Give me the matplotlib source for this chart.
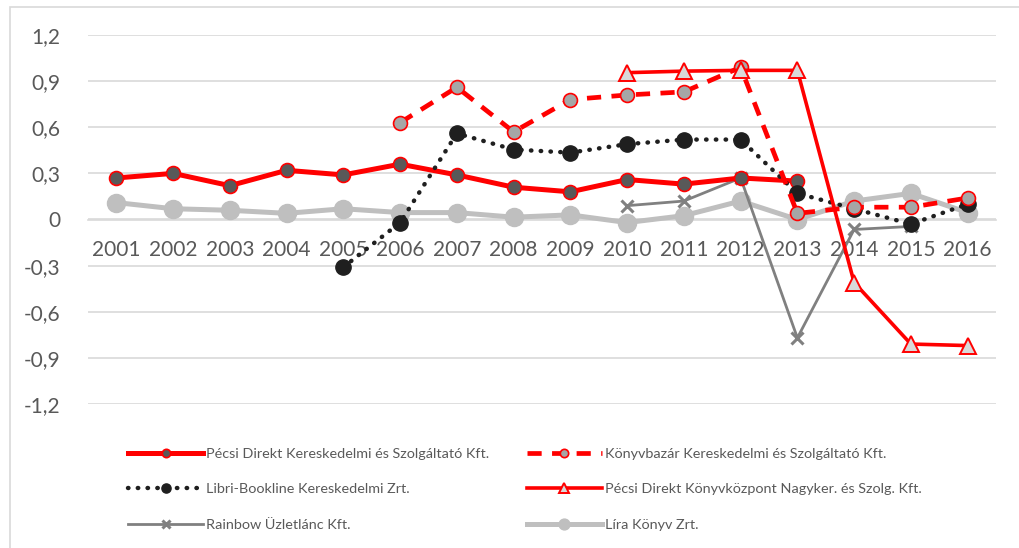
import numpy as np
import matplotlib.pyplot as plt
from matplotlib.patches import Rectangle
from matplotlib.ticker import FuncFormatter

plt.rcParams['font.family'] = ['Lato', 'DejaVu Sans']

years = [str(y) for y in range(2001, 2017)]
nan = np.nan

# values
pecsi_kft = [0.27, 0.30, 0.22, 0.32, 0.29, 0.36, 0.29, 0.21, 0.18, 0.26, 0.23, 0.27, 0.25,
             nan, nan, nan]
konyvbazar = [nan, nan, nan, nan, nan, 0.63, 0.86, 0.57, 0.78, 0.81, 0.83, 0.99, 0.04,
              0.08, 0.08, 0.14]
libri = [nan, nan, nan, nan, -0.31, -0.02, 0.56, 0.455, 0.435, 0.49, 0.52, 0.52, 0.17,
         0.07, -0.03, 0.10]
pecsi_kozpont = [nan] * 9 + [0.955, 0.965, 0.97, 0.97, -0.41, -0.81, -0.82]
rainbow = [nan] * 9 + [0.09, 0.12, 0.27, -0.77, -0.065, -0.045, nan]
lira = [0.11, 0.07, 0.06, 0.04, 0.07, 0.045, 0.045, 0.015, 0.03, -0.02, 0.025, 0.12,
        0.0, 0.12, 0.17, 0.045]

names = ['Pécsi Direkt Kereskedelmi és Szolgáltató Kft.',
         'Könyvbazár Kereskedelmi és Szolgáltató Kft.',
         'Libri-Bookline Kereskedelmi Zrt.',
         'Pécsi Direkt Könyvközpont Nagyker. és Szolg. Kft.',
         'Rainbow Üzletlánc Kft.',
         'Líra Könyv Zrt.']

fig = plt.figure(figsize=(10.19, 5.48), dpi=100)
ax = fig.add_axes([88 / 1019, 1 - 404 / 548, (996 - 88) / 1019, (404 - 35) / 548])
x = np.arange(len(years))

red = '#FF0000'
ax.plot(x, lira, color='#BFBFBF', lw=3.6, marker='o', ms=13, mfc='#BFBFBF',
        mec='#BFBFBF', label=names[5], zorder=3)
ax.plot(x, rainbow, color='#808080', lw=2.0, marker='x', ms=9, mew=2.2,
        mec='#808080', label=names[4], zorder=4)
ax.plot(x, pecsi_kft, color=red, lw=3.6, marker='o', ms=10, mfc='#595959',
        mec=red, mew=1.2, label=names[0], zorder=5)
ax.plot(x, libri, color='#1F1F1F', lw=3.2, ls=(0, (0.1, 2.1)), dash_capstyle='round',
        marker='o', ms=11, mfc='#1F1F1F', mec='#1F1F1F', label=names[2], zorder=6)
ax.plot(x, konyvbazar, color=red, lw=3.4, ls=(0, (3, 2.2)), marker='o', ms=10,
        mfc='#A6A6A6', mec=red, mew=1.2, label=names[1], zorder=7)
ax.plot(x, pecsi_kozpont, color=red, lw=2.6, marker='^', ms=12, mfc='#D9D9D9',
        mec=red, mew=1.4, label=names[3], zorder=8)

ax.set_xlim(-0.5, len(years) - 0.5)
ax.set_ylim(-1.2, 1.2)
ax.set_yticks(np.arange(-1.2, 1.21, 0.3))
ax.yaxis.set_major_formatter(FuncFormatter(
    lambda v, p: '0' if abs(v) < 1e-9 else f'{v:.1f}'.replace('.', ',')))
ax.set_xticks(x)
ax.set_xticklabels(years)
ax.grid(axis='y', color='#D9D9D9', lw=1.2)
ax.set_axisbelow(True)
for s in ['top', 'right', 'left']:
    ax.spines[s].set_visible(False)
ax.spines['bottom'].set_position(('data', 0))
ax.spines['bottom'].set_color('#D9D9D9')
ax.spines['bottom'].set_linewidth(1.2)
ax.tick_params(axis='both', length=0, labelsize=15, colors='#595959')
ax.tick_params(axis='x', pad=15)
ax.tick_params(axis='y', pad=20)

hmap = dict(zip(*ax.get_legend_handles_labels()[::-1]))
order = [0, 2, 4, 1, 3, 5]  # legend fills column by column
leg = fig.legend([hmap[names[i]] for i in order], [names[i] for i in order],
                 ncol=2, loc='upper left',
                 bbox_to_anchor=(115 / 1019, 1 - 435 / 548), frameon=False,
                 fontsize=10.4, labelcolor='#595959', handlelength=5.2,
                 handletextpad=0.2, columnspacing=2.6, labelspacing=1.6,
                 markerscale=0.6)

fig.patches.append(Rectangle((10 / 1019, -0.05), 1.2, 1 - 7 / 548 + 0.05,
                             transform=fig.transFigure, fill=False,
                             edgecolor='#D9D9D9', lw=1.2))

fig.savefig('out.png', dpi=100)
